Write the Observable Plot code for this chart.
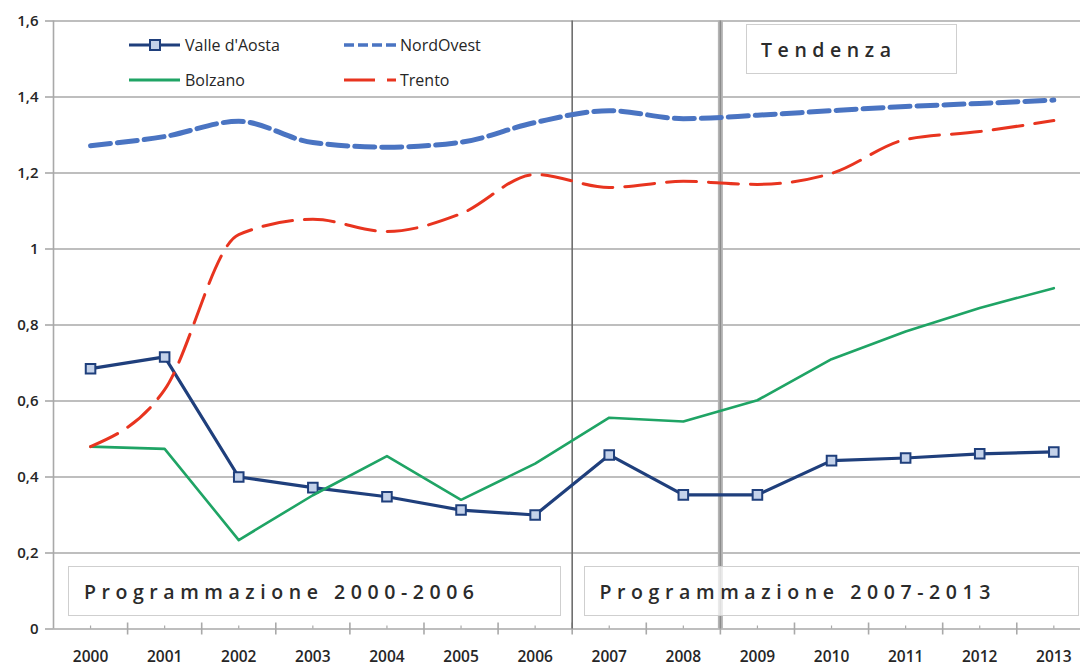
<!DOCTYPE html>
<html>
<head>
<meta charset="utf-8">
<script src="https://cdn.jsdelivr.net/npm/d3@7"></script>
<script src="https://cdn.jsdelivr.net/npm/@observablehq/plot@0.6"></script>
<style>
  body { margin: 0; background: #fff; }
  #wrap { position: relative; width: 1080px; height: 666px; overflow: hidden; font-family: "Open Sans", sans-serif; }
  #wrap svg.plot text { fill: #262626; }
  .box { position: absolute; box-sizing: border-box; border: 1.5px solid #cfcfcf; background: rgba(255,255,255,0.72); }
  .box span { position: absolute; top: 50%; transform: translateY(-50%); font-size: 19.5px; font-weight: 600; color: #2b2b2b; white-space: nowrap; }
  .leg { position: absolute; display: flex; align-items: center; font-size: 16px; font-weight: 500; color: #262626; transform: translateY(-50%); white-space: nowrap; }
  .leg svg { display: block; margin-right: 4px; }
</style>
</head>
<body>
<div id="wrap"></div>
<script>
// ---- data ----
const years = [2000, 2001, 2002, 2003, 2004, 2005, 2006, 2007, 2008, 2009, 2010, 2011, 2012, 2013];
const valleAosta = [0.685, 0.716, 0.400, 0.372, 0.348, 0.313, 0.300, 0.458, 0.353, 0.353, 0.443, 0.450, 0.461, 0.466];
const nordOvest  = [1.272, 1.296, 1.336, 1.280, 1.268, 1.281, 1.333, 1.364, 1.343, 1.352, 1.364, 1.375, 1.383, 1.392];
const bolzano    = [0.480, 0.474, 0.234, 0.352, 0.455, 0.340, 0.435, 0.556, 0.546, 0.602, 0.710, 0.783, 0.845, 0.897];
const trento     = [0.480, 0.630, 1.038, 1.078, 1.046, 1.093, 1.196, 1.162, 1.178, 1.170, 1.199, 1.288, 1.309, 1.338];
const yTicks = [0, 0.2, 0.4, 0.6, 0.8, 1, 1.2, 1.4, 1.6];
const seriesNames = ["Valle d'Aosta", "NordOvest", "Bolzano", "Trento"];
const periodBreaks = [2006.5, 2008.5];
const periodLabels = ["Programmazione 2000-2006", "Programmazione 2007-2013", "Tendenza"];

const rows = (vals) => years.map((y, i) => ({year: y, value: vals[i]}));
const boundaries = years.map(y => y + 0.5).filter(b => b < 2013.36);
const fmt = d => String(d).replace(".", ",");

const colors = {valle: "#1f3f7c", nord: "#4a74c2", bolz: "#1fa465", trento: "#e8341f"};

const chart = Plot.plot({
  width: 1080,
  height: 666,
  marginLeft: 53,
  marginRight: 0,
  marginTop: 20.5,
  marginBottom: 37.5,
  className: "plot",
  style: {fontFamily: "Open Sans, sans-serif", fontSize: "15px", background: "transparent", overflow: "visible"},
  x: {domain: [1999.5, 2013.36]},
  y: {domain: [0, 1.6]},
  marks: [
    Plot.gridY(yTicks, {stroke: "#a9a9a9", strokeOpacity: 1, strokeWidth: 1.6}),
    Plot.axisY({ticks: yTicks, label: null, tickSize: 8, tickPadding: 7, tickFormat: fmt, fontSize: 15, fontWeight: 600, stroke: "#a9a9a9", strokeWidth: 1.6}),
    Plot.ruleX([1999.5], {stroke: "#a9a9a9", strokeWidth: 1.6}),
    Plot.ruleX(boundaries, {y1: 0, y2: 0, insetTop: -6, insetBottom: -6, stroke: "#a9a9a9", strokeWidth: 1.6}),
    Plot.ruleX(years, {y1: 0, y2: 0, insetTop: -3, insetBottom: 0, stroke: "#a9a9a9", strokeWidth: 1.2}),
    Plot.axisX({ticks: years, label: null, tickSize: 0, tickPadding: 22, tickFormat: d => String(d), fontSize: 15.5, fontWeight: 600}),
    // period separators
    Plot.ruleX([periodBreaks[0]], {stroke: "#6e6e6e", strokeWidth: 1.6}),
    Plot.ruleX([periodBreaks[1]], {stroke: "#b4b4b4", strokeWidth: 5}),
    Plot.ruleX([periodBreaks[1]], {stroke: "#8c8c8c", strokeWidth: 1.4}),
    // series
    Plot.line(rows(valleAosta), {x: "year", y: "value", stroke: colors.valle, strokeWidth: 3.2}),
    Plot.dot(rows(valleAosta), {x: "year", y: "value", symbol: "square", r: 5.4, fill: "#c4d2ea", stroke: colors.valle, strokeWidth: 2}),
    Plot.line(rows(nordOvest), {x: "year", y: "value", stroke: colors.nord, strokeWidth: 5, strokeDasharray: "20,7", curve: "monotone-x"}),
    Plot.line(rows(bolzano), {x: "year", y: "value", stroke: colors.bolz, strokeWidth: 2.6}),
    Plot.line(rows(trento), {x: "year", y: "value", stroke: colors.trento, strokeWidth: 3, strokeDasharray: "30,12", curve: "monotone-x"})
  ]
});

const wrap = document.getElementById("wrap");
chart.style.position = "absolute";
chart.style.left = "0";
chart.style.top = "0";
wrap.appendChild(chart);

// period boxes (annotations)
const boxes = [
  {label: periodLabels[0], left: 68, top: 566, w: 493, h: 50, pad: 15, target: 390},
  {label: periodLabels[1], left: 584, top: 566, w: 495, h: 50, pad: 14.5, target: 391},
  {label: periodLabels[2], left: 746, top: 24, w: 211, h: 50, pad: 14, target: 130}
];
for (const b of boxes) {
  const div = document.createElement("div");
  div.className = "box";
  Object.assign(div.style, {left: b.left + "px", top: b.top + "px", width: b.w + "px", height: b.h + "px"});
  const s = document.createElement("span");
  s.textContent = b.label;
  s.style.left = b.pad + "px";
  div.appendChild(s);
  wrap.appendChild(div);
  const w = s.getBoundingClientRect().width;
  const n = b.label.length;
  s.style.letterSpacing = ((b.target - w) / (n - 1)) + "px";
}

// legend
const legend = [
  {name: seriesNames[0], left: 129, cy: 45, kind: "valle"},
  {name: seriesNames[1], left: 344, cy: 45, kind: "nord"},
  {name: seriesNames[2], left: 129, cy: 80, kind: "bolz"},
  {name: seriesNames[3], left: 344, cy: 80, kind: "trento"}
];
for (const item of legend) {
  const d = document.createElement("div");
  d.className = "leg";
  d.style.left = item.left + "px";
  d.style.top = item.cy + "px";
  let g = "";
  if (item.kind === "valle") {
    g = `<line x1="0" y1="8" x2="51" y2="8" stroke="${colors.valle}" stroke-width="3.2"/><rect x="21" y="3" width="10" height="10" fill="#c4d2ea" stroke="${colors.valle}" stroke-width="2"/>`;
  } else if (item.kind === "nord") {
    g = `<line x1="0" y1="8" x2="52" y2="8" stroke="${colors.nord}" stroke-width="3.5" stroke-dasharray="10,4"/>`;
  } else if (item.kind === "bolz") {
    g = `<line x1="0" y1="8" x2="51" y2="8" stroke="${colors.bolz}" stroke-width="3"/>`;
  } else {
    g = `<line x1="0" y1="8" x2="52" y2="8" stroke="${colors.trento}" stroke-width="3.2" stroke-dasharray="31,12,9"/>`;
  }
  d.innerHTML = `<svg width="52" height="16">${g}</svg><span>${item.name}</span>`;
  wrap.appendChild(d);
}
</script>
</body>
</html>
